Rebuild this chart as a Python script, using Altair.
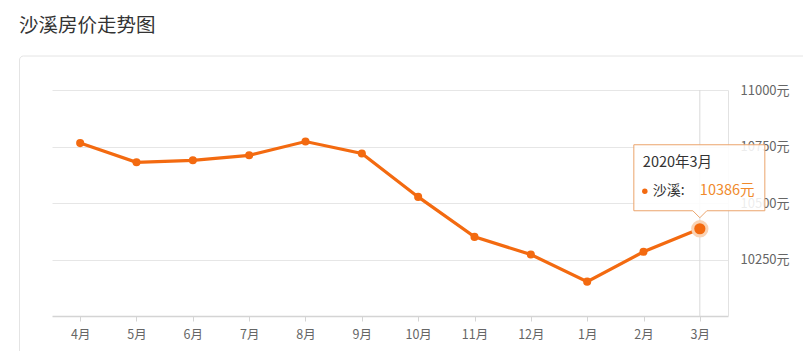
import altair as alt
import pandas as pd

title_text = "沙溪房价走势图"
months = ["4月", "5月", "6月", "7月", "8月", "9月", "10月", "11月", "12月", "1月", "2月", "3月"]
prices = [10765, 10680, 10689, 10711, 10772, 10719, 10527, 10350, 10272, 10152, 10284, 10386]
series_name = "沙溪"
highlight_label = "2020年3月"
y_ticks = [10250, 10500, 10750, 11000]
y_domain = [10000, 11000]

W, H = 676, 226
FONT = "Noto Sans CJK SC"
ORANGE = "#f36a10"

df = pd.DataFrame({"month": months, "price": prices})
hl = df.iloc[[-1]].copy()
hl["label"] = highlight_label
hl["name"] = series_name + ":"
hl["valtxt"] = hl["price"].astype(str) + "元"

x_enc = alt.X("month:N", sort=months, scale=alt.Scale(type="point", padding=0.5),
              axis=alt.Axis(title=None, labelAngle=0, domainColor="#d4d4d4", domainWidth=1.5,
                            tickColor="#d4d4d4", tickSize=5, labelPadding=7, labelColor="#666666",
                            labelFontSize=12.5, labelFont=FONT, grid=False))
y_enc = alt.Y("price:Q", scale=alt.Scale(domain=y_domain, nice=False, zero=False),
              axis=alt.Axis(title=None, orient="right", values=y_ticks, labelExpr="datum.value + '元'",
                            ticks=False, labelPadding=12, labelColor="#666666", labelFontSize=13,
                            labelFont=FONT, domain=True, domainColor="#e2e2e2", gridColor="#e6e6e6",
                            grid=True, zindex=0))

base = alt.Chart(df)

card = alt.Chart(pd.DataFrame({"k": [0]})).mark_rect(
    fillOpacity=0, stroke="#e4e4e4", strokeWidth=1, cornerRadius=4
).encode(x=alt.value(-32.5), x2=alt.value(W + 120), y=alt.value(-34), y2=alt.value(H + 120))

title = alt.Chart(pd.DataFrame({"t": [title_text]})).mark_text(
    align="left", baseline="middle", fontSize=19.5, font=FONT, color="#333333"
).encode(x=alt.value(-33), y=alt.value(-64), text="t:N")

line = base.mark_line(color=ORANGE, strokeWidth=3.2).encode(x=x_enc, y=y_enc)
pts = base.mark_circle(color=ORANGE, size=65, opacity=1).encode(x=x_enc, y=y_enc)

hb = alt.Chart(hl)
rule = hb.mark_rule(color="#d9d9d9", strokeWidth=1).encode(x=x_enc, y=alt.value(0), y2=alt.value(H))
halo = hb.mark_circle(color="#f9d3b5", size=300, opacity=1).encode(x=x_enc, y=y_enc)
bigdot = hb.mark_circle(color=ORANGE, size=125, opacity=1).encode(x=x_enc, y=y_enc)
box = hb.mark_point(
    shape="M -66 -84 L 65 -84 L 65 -18 L 7 -18 L 0 -11 L -7 -18 L -66 -18 Z",
    size=4, filled=True, fill="#ffffff", fillOpacity=0.88, stroke="#eba46c", strokeWidth=1, opacity=1
).encode(x=x_enc, y=y_enc)
t1 = hb.mark_text(align="left", baseline="middle", dx=-57, dy=-66, fontSize=14.5, font=FONT,
                  color="#333333").encode(x=x_enc, y=y_enc, text="label:N")
tdot = hb.mark_circle(color=ORANGE, size=30, opacity=1, xOffset=-55, yOffset=-37.5).encode(x=x_enc, y=y_enc)
t2 = hb.mark_text(align="left", baseline="middle", dx=-47, dy=-37.5, fontSize=14, font=FONT,
                  color="#333333").encode(x=x_enc, y=y_enc, text="name:N")
t3 = hb.mark_text(align="left", baseline="middle", dx=0, dy=-37.5, fontSize=14.5, font=FONT,
                  color="#f08a2c").encode(x=x_enc, y=y_enc, text="valtxt:N")

chart = alt.layer(card, title, rule, line, pts, halo, bigdot, box, t1, tdot, t2, t3).properties(
    width=W, height=H,
    autosize=alt.AutoSizeParams(type="none"),
    padding={"left": 44, "top": 82, "right": 75, "bottom": 35},
).configure_view(stroke=None)

chart.save("out.html", embed_options={"renderer": "svg", "actions": False})
